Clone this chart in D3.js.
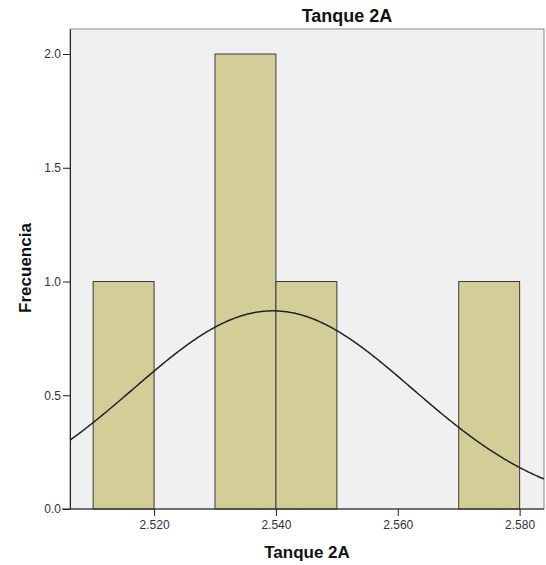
<!DOCTYPE html>
<html><head><meta charset="utf-8">
<script src="https://cdn.jsdelivr.net/npm/d3@7"></script>
<style>body{margin:0;background:#fff;} text{font-family:Arial,"Liberation Sans",sans-serif;}</style>
</head><body><svg id="c" width="546" height="565"></svg>
<script>
// Data
const binStarts = [2.510, 2.530, 2.540, 2.570];
const binEnds   = [2.520, 2.540, 2.550, 2.580];
const counts    = [1, 2, 1, 1];
const xTicks = [2.520, 2.540, 2.560, 2.580];
const yTicks = [0.0, 0.5, 1.0, 1.5, 2.0];
const nObs = 5, binWidth = 0.01, mean = 2.5395, sd = 0.0229;
const title = "Tanque 2A", xTitle = "Tanque 2A", yTitle = "Frecuencia";

const svg = d3.select("#c");
const L = 70, R = 544, T = 29, B = 509;
const x = d3.scaleLinear().domain([2.5062, 2.5840]).range([L, R]);
const y = d3.scaleLinear().domain([0, 2.11]).range([B, T]);

svg.append("rect").attr("x", L).attr("y", T).attr("width", R - L).attr("height", B - T)
  .attr("fill", "#f0f0f0").attr("stroke", "#8a8a8a").attr("stroke-width", 1);

const bars = binStarts.map((s, i) => ({s, e: binEnds[i], c: counts[i]}));
svg.append("g").selectAll("rect").data(bars).join("rect")
  .attr("x", d => x(d.s)).attr("y", d => y(d.c))
  .attr("width", d => x(d.e) - x(d.s)).attr("height", d => y(0) - y(d.c))
  .attr("fill", "#d3ce98").attr("stroke", "#3a3a3a").attr("stroke-width", 1);

// normal curve
const peak = nObs * binWidth / (sd * Math.sqrt(2 * Math.PI));
const pts = d3.range(0, 401).map(i => {
  const v = x.domain()[0] + (x.domain()[1] - x.domain()[0]) * i / 400;
  return [v, peak * Math.exp(-((v - mean) ** 2) / (2 * sd * sd))];
});
svg.append("path").datum(pts)
  .attr("d", d3.line().x(d => x(d[0])).y(d => y(d[1])).curve(d3.curveBasis))
  .attr("fill", "none").attr("stroke", "#222").attr("stroke-width", 1.5);

// axes
const xAxis = svg.append("g").attr("transform", `translate(0,${B})`)
  .call(d3.axisBottom(x).tickValues(xTicks).tickFormat(d3.format(".3f")).tickSize(7).tickSizeOuter(0).tickPadding(4));
const yAxis = svg.append("g").attr("transform", `translate(${L},0)`)
  .call(d3.axisLeft(y).tickValues(yTicks).tickFormat(d3.format(".1f")).tickSize(7).tickSizeOuter(0).tickPadding(2));
[xAxis, yAxis].forEach(g => {
  g.select(".domain").attr("stroke", "#222");
  g.selectAll(".tick line").attr("stroke", "#222");
  g.selectAll(".tick text").attr("fill", "#333").style("font-size", "12px").style("font-family", "Arial, 'Liberation Sans', sans-serif");
});
xAxis.select(".domain").attr("d", `M${L - 8},0H${R}`);

svg.append("text").attr("x", 347).attr("y", 22).attr("text-anchor", "middle")
  .style("font-size", "18px").style("font-weight", "bold").attr("fill", "#111").text(title);
svg.append("text").attr("x", 307).attr("y", 558).attr("text-anchor", "middle")
  .style("font-size", "17px").style("font-weight", "bold").attr("fill", "#111").text(xTitle);
svg.append("text").attr("transform", "translate(31,268) rotate(-90)").attr("text-anchor", "middle")
  .style("font-size", "17px").style("font-weight", "bold").attr("fill", "#111").text(yTitle);
</script></body></html>
